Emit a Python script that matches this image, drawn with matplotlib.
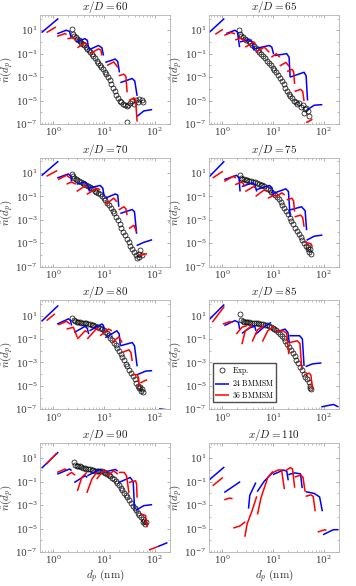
import numpy as np
import matplotlib.pyplot as plt
from matplotlib.ticker import FixedLocator, LogFormatterMathtext, LogLocator, NullFormatter

plt.rcParams['font.family'] = ['DejaVu Serif']
plt.rcParams['mathtext.fontset'] = 'cm'

titles = [60, 65, 70, 75, 80, 85, 90, 110]

# experiment, x/D = 60 .. 90 (no data at 110)
exp60_d = [2.3, 2.45, 2.6, 2.8, 3.0, 3.2, 3.4, 3.6, 3.85, 4.1, 4.4, 4.7, 5.0, 5.4, 5.8, 6.2, 6.7, 7.2, 7.7, 8.3,
           8.9, 9.6, 10.3, 11.1, 12.0, 12.9, 13.9, 15.0, 16.2, 17.5, 19.0, 20.5, 22, 24, 26, 28, 30, 33, 36, 39,
           42, 46, 50, 55, 60, 28.5]
exp60_n = [12, 5, 3.5, 2.5, 1.8, 1.4, 1.1, 0.85, 0.65, 0.5, 0.36, 0.26, 0.19, 0.13, 0.09, 0.06, 0.04, 0.026, 0.017,
           0.011, 7e-3, 4.5e-3, 2.8e-3, 1.7e-3, 1e-3, 5.5e-4, 2.8e-4, 1.3e-4, 6e-5, 3e-5, 1.6e-5, 1e-5, 7e-6, 5e-6,
           4e-6, 3.5e-6, 4e-6, 6e-6, 9e-6, 5e-6, 1.2e-5, 7e-6, 1.4e-5, 1.1e-5, 7e-6, 1.5e-7]
exp65_d = [2.1, 2.25, 2.4, 2.6, 2.8, 3.0, 3.3, 3.6, 3.9, 4.2, 4.6, 5.0, 5.4, 5.9, 6.4, 7.0, 7.6, 8.3, 9.0, 9.8,
           10.7, 11.6, 12.6, 13.7, 14.9, 16.2, 17.5, 19, 20.5, 22, 24, 26, 28, 30, 33, 36, 39, 42, 45, 48, 52, 40]
exp65_n = [10, 5, 3.5, 2.5, 1.8, 1.4, 1.1, 0.8, 0.6, 0.45, 0.3, 0.2, 0.14, 0.09, 0.06, 0.04, 0.025, 0.016, 0.01,
           6e-3, 4e-3, 2.6e-3, 1.6e-3, 9e-4, 5e-4, 2.6e-4, 1.3e-4, 7e-5, 4e-5, 2.4e-5, 1.5e-5, 1e-5, 7e-6, 5e-6,
           6e-6, 3e-6, 4e-6, 2e-6, 2.5e-6, 1.2e-6, 4.5e-7, 8e-7]
exp70_d = [2.3, 2.45, 2.6, 2.8, 3.0, 3.25, 3.5, 3.8, 4.1, 4.4, 4.8, 5.2, 5.6, 6.1, 6.6, 7.1, 7.7, 8.4, 9.1, 9.9,
           10.7, 11.6, 12.6, 13.6, 14.8, 16, 17.4, 18.8, 20.4, 22, 24, 26, 28, 30.5, 33, 36, 39, 42, 45, 48, 52,
           50, 55]
exp70_n = [8, 5, 3.8, 3, 2.4, 2, 1.6, 1.35, 1.15, 1.0, 0.8, 0.65, 0.5, 0.4, 0.3, 0.25, 0.2, 0.15, 0.1, 0.07, 0.045,
           0.03, 0.018, 0.01, 6e-3, 3.5e-3, 1.8e-3, 9e-4, 4.5e-4, 2.2e-4, 1e-4, 5e-5, 2.5e-5, 1.3e-5, 6e-6, 3e-6,
           1.8e-6, 1e-6, 6e-7, 1.2e-6, 2.5e-6, 7e-7, 1e-6]
exp75_d = [2.2, 2.35, 2.5, 2.7, 2.9, 3.1, 3.4, 3.7, 4.0, 4.4, 4.8, 5.2, 5.7, 6.2, 6.7, 7.3, 7.9, 8.6, 9.3, 10.1,
           11, 12, 13, 14.1, 15.3, 16.6, 18, 19.6, 21.3, 23, 25, 27.5, 30, 32.5, 35, 38, 41, 44, 48, 52, 56, 50, 54]
exp75_n = [7, 4, 3.2, 2.8, 2.5, 2.3, 2.1, 1.95, 1.8, 1.6, 1.4, 1.2, 1.0, 0.85, 0.7, 0.55, 0.45, 0.35, 0.26, 0.19,
           0.13, 0.085, 0.055, 0.035, 0.02, 0.011, 6e-3, 3e-3, 1.5e-3, 8e-4, 4e-4, 2.2e-4, 1.1e-4, 6e-5, 3.5e-5,
           2e-5, 1e-5, 5.5e-6, 3e-6, 1.8e-6, 1.2e-6, 5e-6, 3e-6]
exp80_d = [2.4, 2.55, 2.7, 2.9, 3.1, 3.35, 3.6, 3.9, 4.2, 4.5, 4.9, 5.3, 5.7, 6.2, 6.7, 7.2, 7.8, 8.4, 9.1, 9.8,
           10.6, 11.5, 12.4, 13.4, 14.5, 15.6, 16.9, 18.2, 19.7, 21.3, 23, 25, 27, 29, 31.5, 34, 37, 40, 43, 46,
           50, 54, 58, 52, 56]
exp80_n = [6, 4, 3.5, 3.1, 2.9, 2.7, 2.5, 2.4, 2.3, 2.2, 2.0, 1.85, 1.7, 1.5, 1.3, 1.15, 1.0, 0.85, 0.7, 0.55,
           0.42, 0.3, 0.2, 0.13, 0.08, 0.05, 0.03, 0.018, 0.01, 5.5e-3, 3e-3, 1.6e-3, 8e-4, 4.5e-4, 2.3e-4,
           1.2e-4, 6.5e-5, 3.5e-5, 1.8e-5, 1e-5, 6e-6, 4e-6, 3e-6, 8e-6, 5e-6]
exp85_d = [2.26, 2.4, 2.55, 2.7, 2.9, 3.1, 3.35, 3.6, 3.9, 4.2, 4.6, 5.0, 5.4, 5.9, 6.4, 7.0, 7.6, 8.3, 9.0, 9.8,
           10.7, 11.6, 12.6, 13.7, 14.9, 16.2, 17.6, 19.1, 20.7, 22.5, 24.5, 26.6, 29, 31.5, 34, 37, 40, 43.5,
           47, 51, 53, 55, 54]
exp85_n = [14, 4, 3.2, 3.0, 2.8, 2.7, 2.6, 2.5, 2.4, 2.3, 2.2, 2.1, 2.0, 1.9, 1.75, 1.6, 1.45, 1.3, 1.1, 0.95,
           0.75, 0.58, 0.42, 0.29, 0.19, 0.12, 0.07, 0.04, 0.022, 0.012, 6.5e-3, 3.4e-3, 1.7e-3, 8.5e-4, 4.2e-4,
           2.1e-4, 1.1e-4, 6e-5, 3.5e-5, 2e-5, 1e-5, 5e-6, 7e-6]
exp90_d = [2.6, 2.75, 2.9, 3.1, 3.35, 3.6, 3.9, 4.2, 4.5, 4.9, 5.3, 5.7, 6.2, 6.7, 7.2, 7.8, 8.4, 9.1, 9.8, 10.6,
           11.5, 12.4, 13.4, 14.5, 15.6, 16.9, 18.2, 19.7, 21.3, 23, 25, 27, 29, 31.5, 34, 37, 40, 43, 46, 50,
           54, 58, 62, 66, 64, 60]
exp90_n = [4.5, 2.8, 2.4, 2.2, 2.0, 1.8, 1.6, 1.45, 1.3, 1.2, 1.1, 1.0, 0.95, 0.9, 0.87, 0.85, 0.82, 0.75, 0.65,
           0.55, 0.45, 0.37, 0.3, 0.22, 0.16, 0.11, 0.075, 0.05, 0.03, 0.019, 0.011, 7e-3, 4.5e-3, 2.5e-3,
           1.5e-3, 9e-4, 5.5e-4, 3.6e-4, 2.2e-4, 1.4e-4, 9e-5, 6e-5, 4.5e-5, 3.5e-5, 2.5e-5, 4e-5]

# model sections: each entry is one bin, as (d_p, n) points
blue60 = [[(0.59, 6.3), (1.26, 100)],
          [(1.2, 5), (1.8, 10), (2.1, 8), (2.25, 2.3)],
          [(2.8, 1.0), (4.2, 1.9), (4.7, 1.4), (5.0, 0.26)],
          [(5.1, 0.22), (7.8, 0.5), (9.1, 0.32), (9.8, 0.07)],
          [(10.6, 0.018), (16.7, 0.035), (18.7, 0.021), (20.2, 2.5e-3)],
          [(21, 3.4e-4), (36, 7.6e-4), (40.5, 4.6e-4), (45, 2.5e-5)],
          [(45, 4.5e-7), (61, 1.3e-6), (89, 1.7e-6)]]
red60 = [[(0.74, 6.3), (1.13, 19)],
         [(1.2, 3), (1.7, 5.2), (1.84, 4.3)],
         [(1.9, 1.9), (2.5, 2.3), (2.8, 1.2)],
         [(3.0, 0.32), (4.25, 0.86), (4.7, 0.6)],
         [(5.35, 0.1), (7.8, 0.26), (8.7, 0.2), (9.1, 0.07)],
         [(11.5, 9.8e-3), (15.6, 0.02), (18.7, 6.8e-3)],
         [(19.6, 1.3e-3), (24.6, 1.8e-3), (27, 1.2e-3), (28.6, 5e-5)],
         [(31, 1e-5), (39, 1.7e-5), (42, 1e-5), (45, 1.6e-7)]]
blue65 = [[(0.55, 6.3), (1.1, 100)],
          [(1.2, 5.2), (1.78, 10), (2.0, 7), (2.2, 0.36)],
          [(2.25, 1.0), (3.3, 1.6), (3.9, 1.0), (4.2, 0.19)],
          [(4.2, 0.26), (8.5, 0.5), (9.5, 0.36), (10.3, 0.09)],
          [(10.8, 0.069), (18.7, 0.1), (20.8, 0.05), (21.8, 1e-3)],
          [(21.8, 1e-3), (41, 2.6e-3), (45, 1.3e-3), (48, 1e-5)],
          [(48, 1.7e-6), (65, 4e-6), (94, 4.5e-6)]]
red65 = [[(0.73, 4.5), (1.03, 12)],
         [(1.1, 3.7), (1.5, 6.3), (1.8, 5)],
         [(1.8, 1.5), (2.4, 2.2), (2.85, 1.0)],
         [(2.85, 0.36), (4.2, 1.0), (4.55, 0.7)],
         [(4.55, 0.13), (6.75, 0.36), (8.5, 0.13)],
         [(9.3, 0.05), (11.7, 0.1), (13.6, 0.05)],
         [(13.6, 9e-3), (18, 0.018), (21, 8e-3)],
         [(19, 3e-3), (23.6, 4.7e-3), (25.5, 3e-3), (26.7, 2.6e-4)],
         [(26.7, 6e-5), (35, 9e-5), (38.5, 6e-5), (41, 9e-6)],
         [(45, 1.3e-7), (60, 2.5e-7)]]
blue70 = [[(0.59, 5.9), (1.26, 100)],
          [(1.2, 3.7), (1.98, 8.2), (2.2, 5.6), (2.3, 1.9)],
          [(2.9, 1.1), (4.25, 1.7), (4.7, 1.1), (5.2, 0.26)],
          [(5.0, 0.5), (8.4, 0.86), (9.5, 0.5), (10.1, 0.1)],
          [(10.6, 0.07), (16.7, 0.16), (18.7, 0.13), (19.6, 0.013)],
          [(21, 3.5e-3), (36, 7.6e-3), (40, 4.8e-3), (44, 6.5e-5)],
          [(44, 6.3e-6), (61, 1.2e-5), (89, 2e-5)]]
red70 = [[(0.74, 5.2), (1.2, 16)],
         [(1.25, 2.7), (1.84, 6.4), (2.14, 3.7)],
         [(1.84, 1.1), (2.3, 1.7), (2.8, 1.1)],
         [(2.9, 0.26), (4.25, 0.8), (4.7, 0.7)],
         [(4.6, 0.15), (7.3, 0.5), (8.4, 0.36)],
         [(10.6, 0.02), (15.6, 0.07), (18, 0.035)],
         [(19.6, 7e-3), (24.6, 0.013), (27, 9e-3), (28.6, 2.5e-3)],
         [(31, 1.8e-4), (39, 3.4e-4), (44, 9e-5)],
         [(50, 9e-7), (71, 1.3e-6)]]
blue75 = [[(0.55, 4.5), (1.1, 100)],
          [(1.1, 2.7), (1.93, 6.3), (2.15, 3.5), (2.25, 0.26)],
          [(2.45, 0.7), (3.9, 1.4), (4.4, 1.0), (4.8, 0.26)],
          [(4.6, 0.36), (8.5, 0.86), (9.5, 0.58), (10.3, 0.1)],
          [(10.5, 0.19), (17.9, 0.44), (20.2, 0.26), (21.8, 1.8e-3)],
          [(21.8, 7e-3), (36.5, 0.013), (43, 6e-3), (46, 1.3e-4)],
          [(46, 1.8e-5), (65, 4e-5), (94, 5e-5)]]
red75 = [[(0.65, 3.7), (1.03, 14)],
         [(1.1, 1.9), (1.65, 5.2), (1.87, 3.7)],
         [(1.8, 1.0), (2.45, 1.7), (2.85, 0.7)],
         [(2.85, 0.26), (4.2, 0.7), (4.55, 0.5)],
         [(4.55, 0.1), (6.75, 0.36), (7.9, 0.26)],
         [(7.9, 0.07), (10.8, 0.13), (12, 0.1)],
         [(11.7, 0.1), (15, 0.2), (17, 0.13)],
         [(18.7, 0.05), (23.6, 0.07), (25.5, 0.04), (26.7, 5e-3)],
         [(26.7, 1.8e-3), (35, 2.5e-3), (38.5, 1.6e-3), (41, 2.6e-4)],
         [(41, 1.3e-5), (56, 9e-6), (60, 5e-6)]]
blue80 = [[(0.59, 3.2), (1.26, 73)],
          [(1.2, 1.9), (2.0, 5.2), (2.2, 3.7), (2.3, 1.4)],
          [(2.6, 0.36), (4.25, 1.2), (4.7, 0.8), (5.0, 0.26)],
          [(5.2, 0.5), (9.1, 1.9), (9.8, 1.4), (10.1, 0.5)],
          [(10.6, 0.13), (18, 0.5), (20, 0.26), (21, 0.026)],
          [(21, 0.026), (36, 0.05), (40, 0.026), (45, 4.7e-4)],
          [(45, 9e-5), (66, 1.8e-4), (89, 2e-4)],
          [(122, 1.1e-7), (178, 9e-8)]]
red80 = [[(0.74, 3.7), (1.08, 14)],
         [(1.25, 1.6), (1.84, 3.2), (2.14, 1.9)],
         [(1.84, 0.7), (2.5, 1.0), (3.0, 0.13)],
         [(3.0, 0.1), (4.25, 0.5), (4.7, 0.4)],
         [(4.7, 0.1), (7.2, 0.8), (8.2, 0.5)],
         [(8.4, 0.19), (12.3, 0.7), (14.4, 0.5)],
         [(14.4, 0.05), (19.6, 0.15), (22.8, 0.05)],
         [(22.8, 7e-3), (31, 0.012), (34, 7e-3), (36, 1.3e-3)],
         [(36, 9e-5), (45, 9e-5), (48, 5e-5), (50, 8.9e-6)],
         [(52, 1.8e-5), (71, 3.4e-5)]]
blue85 = [[(0.53, 3.7), (1.1, 89)],
          [(1.1, 1.4), (1.78, 3.7), (2.1, 2.6), (2.2, 0.7)],
          [(2.45, 0.3), (3.5, 0.9), (4.4, 1.2), (4.6, 0.5)],
          [(4.6, 0.26), (6.75, 1.1), (9.2, 2.6)],
          [(10.8, 0.36), (17.3, 0.7), (19.7, 0.36), (21, 0.05)],
          [(21, 0.19), (33.5, 0.19), (38, 0.1), (41, 5e-4)],
          [(44, 4.4e-4), (60, 7.5e-4), (90, 9e-4)],
          [(90, 1.6e-7), (155, 2.6e-7), (195, 1.6e-7)]]
red85 = [[(0.64, 2.7), (1.1, 60)],
         [(1.03, 1.9), (1.4, 3), (1.6, 2.6)],
         [(1.9, 0.26), (2.45, 1.0), (3.1, 1.4)],
         [(2.45, 0.036), (2.85, 0.5), (3.9, 1.4)],
         [(3.9, 0.06), (4.95, 0.6), (6.75, 1.4)],
         [(6.2, 0.06), (7.9, 0.5), (10.5, 1.2)],
         [(10.8, 0.4), (16, 0.5), (18.7, 0.3), (20.5, 5e-3)],
         [(21.5, 0.05), (30, 0.07), (34, 0.04), (37, 3e-4)],
         [(41, 9e-5), (52, 1.2e-4), (56, 8e-5), (60, 5e-6)]]
blue90 = [[(0.59, 1.4), (1.26, 33)],
          [(1.2, 0.44), (2.1, 1.2), (2.3, 0.9)],
          [(2.6, 0.085), (4.25, 0.32), (4.7, 0.23)],
          [(4.7, 0.32), (8.4, 1.1), (9.1, 0.8)],
          [(9.1, 0.6), (16.7, 1.1), (18.7, 0.8)],
          [(19.6, 0.085), (33, 0.23), (37.7, 0.1), (40, 5.8e-4)],
          [(42, 3.6e-4), (61, 9e-4), (89, 1.1e-3)],
          [(113, 2.8e-7), (178, 6.3e-7)]]
red90 = [[(0.74, 3.2), (1.17, 27)],
         [(1.2, 0.62), (1.7, 1.2), (1.84, 1.0)],
         [(1.84, 0.32), (2.3, 0.62), (2.7, 0.36)],
         [(3.0, 0.016), (3.65, 0.23), (4.6, 0.62)],
         [(4.6, 0.011), (5.8, 0.17), (7.2, 0.62)],
         [(7.2, 0.17), (9.1, 0.62), (11.5, 0.84)],
         [(11.5, 0.32), (15.6, 0.84), (18.7, 0.44)],
         [(19.6, 0.62), (25, 0.62), (28, 0.3), (31, 0.011)],
         [(31, 0.085), (42, 0.12), (44, 0.06), (45, 4.3e-3)],
         [(52, 1.8e-4), (66, 1.3e-4), (71, 1.3e-5)],
         [(77, 1.5e-7), (113, 2.8e-7)]]
blue110 = [[(0.53, 0.12), (1.1, 1.8)],
           [(1.1, 0.012), (2.26, 0.1)],
           [(3.3, 5e-4), (3.5, 7e-3), (4.6, 0.085)],
           [(4.9, 0.014), (6.75, 0.11), (10, 0.63)],
           [(10, 0.4), (16, 1.0), (18.7, 0.8), (20, 0.13)],
           [(20, 0.4), (27, 0.56), (35, 0.46), (37.7, 0.028)],
           [(44, 0.014), (65, 0.01), (83, 5e-3), (94, 3e-4)],
           [(97, 3e-6), (155, 8e-6), (195, 8e-6)]]
red110 = [[(0.65, 0.045), (1.03, 0.23)],
          [(1.1, 2.8e-3), (1.4, 4e-3), (1.6, 3.5e-3)],
          [(1.65, 1.1e-5), (2.26, 1.7e-5), (2.85, 3.8e-5)],
          [(2.8, 2e-6), (3.1, 2.5e-5), (3.9, 3.5e-4), (4.8, 5.7e-3)],
          [(4.95, 1.6e-4), (5.8, 4e-3), (7.9, 0.23), (10, 0.75)],
          [(10, 0.6), (12.6, 1.0), (14.8, 1.0), (16.8, 0.023)],
          [(17.3, 0.8), (22, 1.6), (24.3, 1.2), (26.8, 0.03)],
          [(26.8, 0.25), (35, 0.36), (39, 0.25), (43, 0.014)],
          [(44, 5.6e-3), (56, 7.5e-3), (62, 5.6e-3), (68, 3e-4)],
          [(76, 5e-6), (104, 8e-6), (113, 7e-6)]]

exps = [(exp60_d, exp60_n), (exp65_d, exp65_n), (exp70_d, exp70_n), (exp75_d, exp75_n),
        (exp80_d, exp80_n), (exp85_d, exp85_n), (exp90_d, exp90_n), None]
blues = [blue60, blue65, blue70, blue75, blue80, blue85, blue90, blue110]
reds = [red60, red65, red70, red75, red80, red85, red90, red110]

fig = plt.figure(figsize=(3.56, 5.86), dpi=100)
W, H = 356, 586
lefts = [40, 209]
tops = [15, 157.7, 300.3, 443]

for k, xd in enumerate(titles):
    r, c = divmod(k, 2)
    ax = fig.add_axes([lefts[c] / W, 1 - (tops[r] + 109) / H, 130 / W, 109 / H])
    hs = []
    if exps[k] is not None:
        h, = ax.plot(exps[k][0], exps[k][1], 'o', mfc='none', mec='k', ms=3.6, mew=0.5, label='Exp.')
        hs.append(h)
    for seg in blues[k]:
        d, n = zip(*seg)
        hb, = ax.plot(d, n, color='b', lw=1.1, solid_capstyle='butt')
    for seg in reds[k]:
        d, n = zip(*seg)
        hr, = ax.plot(d, n, color='r', lw=1.1, solid_capstyle='butt')
    ax.set_xscale('log')
    ax.set_yscale('log')
    ax.set_xlim(0.55, 200)
    ax.set_ylim(1e-7, 2e2)
    ax.yaxis.set_major_locator(FixedLocator([1e-7, 1e-5, 1e-3, 1e-1, 1e1]))
    ax.yaxis.set_major_formatter(LogFormatterMathtext())
    ax.yaxis.set_minor_locator(FixedLocator([1e-6, 1e-4, 1e-2, 1e0, 1e2]))
    ax.yaxis.set_minor_formatter(NullFormatter())
    ax.xaxis.set_minor_locator(LogLocator(subs=np.arange(2, 10), numticks=20))
    ax.xaxis.set_minor_formatter(NullFormatter())
    for s in ax.spines.values():
        s.set_color('0.7')
        s.set_linewidth(0.6)
    ax.tick_params(which='both', direction='in', top=True, right=True, color='0.55',
                   labelsize=6.5, labelcolor='0.25', pad=1.5)
    ax.tick_params(which='major', length=2.5, width=0.5)
    ax.tick_params(which='minor', length=1.3, width=0.4)
    ax.set_title(r'$x/D = %d$' % xd, fontsize=8, pad=2.5, color='0.1')
    ax.set_ylabel(r'$\hat{n}(d_p)$', fontsize=8, labelpad=0, color='0.2')
    if r == 3:
        ax.set_xlabel(r'$d_p\ \mathrm{(nm)}$', fontsize=8, labelpad=0.5, color='0.2')
    if k == 5:
        hb.set_label(r'$\mathrm{24\ BMMSM}$')
        hr.set_label(r'$\mathrm{36\ BMMSM}$')
        hs[0].set_label(r'$\mathrm{Exp.}$')
        ax.legend(handles=[hs[0], hb, hr], loc='lower left', fontsize=5.5, handlelength=1.8,
                  borderpad=0.3, labelspacing=0.2, handletextpad=0.4, fancybox=False,
                  edgecolor='0.3', framealpha=1, bbox_to_anchor=(0.0, 0.03))

fig.savefig('out.png', dpi=100)
